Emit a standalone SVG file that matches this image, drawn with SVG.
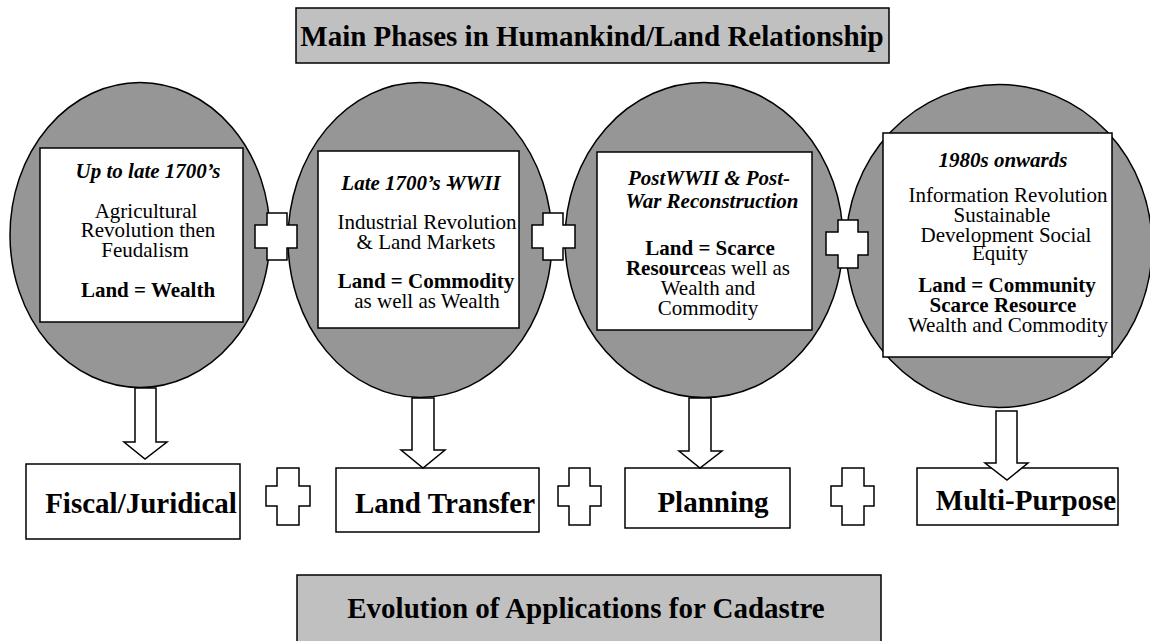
<svg xmlns="http://www.w3.org/2000/svg" width="1150" height="641" viewBox="0 0 1150 641">
<style>
.circ{fill:#969696;stroke:#000;stroke-width:1.5}
.box{fill:#fff;stroke:#000;stroke-width:1.5}
.tbox{fill:#c0c0c0;stroke:#000;stroke-width:1.5}
.plus{fill:#fff;stroke:#000;stroke-width:1.5}
.arr{fill:#fff;stroke:#000;stroke-width:1.5}
text{font-family:"Liberation Serif","Times New Roman",serif;fill:#000;text-anchor:middle;font-size:21px}
.b{font-weight:bold}
.bi{font-weight:bold;font-style:italic}
.big{font-size:29px;font-weight:bold}
</style>
<rect width="1150" height="641" fill="#fff"/>

<g id="title-top">
<rect class="tbox" x="296" y="8" width="593" height="55"/>
<text class="big" x="592" y="46">Main Phases in Humankind/Land Relationship</text>
</g>

<g id="phase1">
<ellipse class="circ" cx="140" cy="235" rx="130" ry="152.5"/>
<rect class="box" x="40" y="148" width="203" height="174"/>
<text><tspan class="bi" x="148" y="178">Up to late 1700’s</tspan><tspan x="146" y="218">Agricultural</tspan><tspan x="148" y="237">Revolution then</tspan><tspan x="145" y="257">Feudalism</tspan><tspan class="b" x="148" y="297">Land = Wealth</tspan></text>
</g>

<g id="phase2">
<ellipse class="circ" cx="420" cy="240" rx="132" ry="157.5"/>
<rect class="box" x="318" y="151" width="201" height="177"/>
<text><tspan class="bi" x="421" y="190">Late 1700’s -<tspan dx="-6">WWII</tspan></tspan><tspan x="427" y="229">Industrial Revolution</tspan><tspan x="426" y="249">&amp; Land Markets</tspan><tspan class="b" x="426" y="288">Land = Commodity</tspan><tspan x="427" y="308">as well as Wealth</tspan></text>
</g>

<g id="phase3">
<ellipse class="circ" cx="704" cy="240" rx="139" ry="157.5"/>
<rect class="box" x="597" y="152" width="215" height="178"/>
<text><tspan class="bi" x="709" y="185">PostWWII &amp; Post-</tspan><tspan class="bi" x="712" y="208">War Reconstruction</tspan><tspan class="b" x="710" y="255">Land = Scarce</tspan><tspan x="708" y="275"><tspan class="b">Resource</tspan>as well as</tspan><tspan x="708" y="295">Wealth and</tspan><tspan x="708" y="315">Commodity</tspan></text>
</g>

<g id="phase4">
<ellipse class="circ" cx="999" cy="246" rx="153" ry="161.5"/>
<rect class="box" x="883" y="133" width="229" height="224"/>
<text><tspan class="bi" x="1003" y="167">1980s onwards</tspan><tspan x="1008" y="202">Information Revolution</tspan><tspan x="1002" y="222">Sustainable</tspan><tspan x="1006" y="242">Development Social</tspan><tspan x="1000" y="260">Equity</tspan><tspan class="b" x="1007" y="292">Land = Community</tspan><tspan class="b" x="1003" y="312">Scarce Resource</tspan><tspan x="1008" y="332">Wealth and Commodity</tspan></text>
</g>

<g id="app1">
<rect class="box" x="26" y="464" width="214" height="75"/>
<text class="big" x="141" y="513">Fiscal/Juridical</text>
</g>
<g id="app2">
<rect class="box" x="336" y="468" width="203" height="64"/>
<text class="big" x="445" y="513">Land Transfer</text>
</g>
<g id="app3">
<rect class="box" x="625" y="468" width="165" height="60"/>
<text class="big" x="713" y="512">Planning</text>
</g>
<g id="app4">
<rect class="box" x="917" y="468" width="201" height="57"/>
<text class="big" x="1026" y="510">Multi-Purpose</text>
</g>

<g id="title-bottom">
<rect class="tbox" x="297" y="575" width="584" height="72"/>
<text class="big" x="586" y="618">Evolution of Applications for Cadastre</text>
</g>

<g id="connectors">
<polygon class="plus" points="267,213 287,213 287,225 297,225 297,248 287,248 287,260 267,260 267,248 255,248 255,225 267,225"/>
<polygon class="plus" points="543,213 563,213 563,225 575,225 575,248 563,248 563,260 543,260 543,248 532,248 532,225 543,225"/>
<polygon class="plus" points="838,220 858,220 858,232 868,232 868,255 858,255 858,268 838,268 838,255 826,255 826,232 838,232"/>
<polygon class="plus" points="277,468 299,468 299,486 310,486 310,506 299,506 299,525 277,525 277,506 266,506 266,486 277,486"/>
<polygon class="plus" points="569,468 590,468 590,486 601,486 601,506 590,506 590,525 569,525 569,506 558,506 558,486 569,486"/>
<polygon class="plus" points="842,468 864,468 864,486 874,486 874,506 864,506 864,525 842,525 842,506 831,506 831,486 842,486"/>
<polygon class="arr" points="135,388 156,388 156,442 167,442 145,459 124,442 135,442"/>
<polygon class="arr" points="412,398 434,398 434,450 445,450 423,468 401,450 412,450"/>
<polygon class="arr" points="689,398 711,398 711,451 722,451 700,468 679,451 689,451"/>
<polygon class="arr" points="996,411 1017,411 1017,463 1028,463 1007,480 985,463 996,463"/>
</g>
</svg>
